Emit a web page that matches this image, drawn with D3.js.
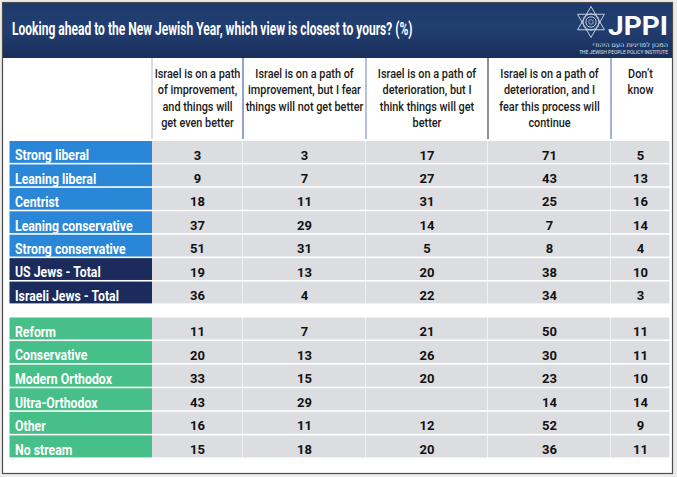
<!DOCTYPE html>
<html>
<head>
<meta charset="utf-8">
<script src="https://cdn.jsdelivr.net/npm/d3@7"></script>
<style>
  html, body { margin: 0; padding: 0; background: #ebebeb; }
  svg { display: block; }
</style>
</head>
<body>
<svg id="chart" width="677" height="477"></svg>
<script>
// ---------------- DATA ----------------
const titleText = "Looking ahead to the New Jewish Year, which view is closest to yours? (%)";

const columnKeys = ["improveBetter", "improveFear", "deteriorBetter", "deteriorContinue", "dontKnow"];
const columnHeaders = [
  ["Israel is on a path", "of improvement,", "and things will", "get even better"],
  ["Israel is on a path of", "improvement, but I fear", "things will not get better"],
  ["Israel is on a path of", "deterioration, but I", "think things will get", "better"],
  ["Israel is on a path of", "deterioration, and I", "fear this process will", "continue"],
  ["Don\u2019t", "know"]
];

const politicalRows = ["Strong liberal", "Leaning liberal", "Centrist", "Leaning conservative",
  "Strong conservative", "US Jews - Total", "Israeli Jews - Total"];
const politicalTypes = ["blue", "blue", "blue", "blue", "blue", "navy", "navy"];
const streamRows = ["Reform", "Conservative", "Modern Orthodox", "Ultra-Orthodox", "Other", "No stream"];
const streamTypes = ["green", "green", "green", "green", "green", "green"];

// values per column, political rows then stream rows
const improveBetter    = [3, 9, 18, 37, 51, 19, 36,   11, 20, 33, 43, 16, 15];
const improveFear      = [3, 7, 11, 29, 31, 13, 4,    7, 13, 15, 29, 11, 18];
const deteriorBetter   = [17, 27, 31, 14, 5, 20, 22,  21, 26, 20, null, 12, 20];
const deteriorContinue = [71, 43, 25, 7, 8, 38, 34,   50, 30, 23, 14, 52, 36];
const dontKnow         = [5, 13, 16, 14, 4, 10, 3,    11, 11, 10, 14, 9, 11];

// ---------------- STYLE / LAYOUT ----------------
const W = 677, H = 477;
const labelColor = { blue: "#2a87d8", navy: "#1b2b5c", green: "#47bf88" };
const cellColor = "#dcdde0";
const fontMain = "Roboto, 'Open Sans', 'Noto Sans', sans-serif";

const svg = d3.select("#chart");
const defs = svg.append("defs");
const grad = defs.append("linearGradient").attr("id", "hdr").attr("x1", 0).attr("y1", 0).attr("x2", 0).attr("y2", 1);
grad.append("stop").attr("offset", "0%").attr("stop-color", "#1e3a6c");
grad.append("stop").attr("offset", "45%").attr("stop-color", "#213f72");
grad.append("stop").attr("offset", "100%").attr("stop-color", "#1a2e5a");

// fit a text horizontally into a given width using a scale transform
function fittedText(x, y, width, anchor, attrs, str) {
  const g = svg.append("g");
  const t = g.append("text").attr("text-anchor", anchor);
  Object.entries(attrs).forEach(([k, v]) => t.attr(k, v));
  t.text(str);
  const natural = t.node().getComputedTextLength() || width;
  g.attr("transform", `translate(${x},${y}) scale(${width / natural},1)`);
  return g;
}

// background + frame
svg.append("rect").attr("width", W).attr("height", H).attr("fill", "#ebebeb");
svg.append("rect").attr("x", 2.5).attr("y", 2.5).attr("width", 670).attr("height", 471)
  .attr("fill", "#ffffff").attr("stroke", "#4d4d4d").attr("stroke-width", 1.2);
svg.append("rect").attr("x", 3).attr("y", 3).attr("width", 669).attr("height", 55).attr("fill", "url(#hdr)");

// title
fittedText(12, 34.5, 401, "start",
  { "font-family": fontMain, "font-weight": 700, "font-size": 18.5, fill: "#ffffff" }, titleText);

// logo
const logo = svg.append("g").attr("transform", "translate(591,22)");
const R = 15.5;
const tri = (rot) => d3.range(3).map(i => {
  const a = (rot + i * 120 - 90) * Math.PI / 180;
  return [R * Math.cos(a), R * Math.sin(a)];
});
[0, 60].forEach(rot => {
  logo.append("path").attr("d", d3.line()(tri(rot)) + "Z")
    .attr("fill", "none").attr("stroke", "#d9dfea").attr("stroke-width", 0.9);
});
[0, 30].forEach(rot => {
  const hex = d3.range(6).map(i => {
    const a = (rot + i * 60) * Math.PI / 180;
    return [8.8 * Math.cos(a), 8.8 * Math.sin(a)];
  });
  logo.append("path").attr("d", d3.line()(hex) + "Z")
    .attr("fill", "none").attr("stroke", "#c9d1e2").attr("stroke-width", 0.6);
});
logo.append("circle").attr("r", 5.2).attr("fill", "none").attr("stroke", "#e6eaf2").attr("stroke-width", 0.8);
logo.append("circle").attr("r", 2.3).attr("fill", "none").attr("stroke", "#e6eaf2").attr("stroke-width", 0.6);
fittedText(668, 35, 60, "end",
  { "font-family": fontMain, "font-weight": 700, "font-size": 25, fill: "#ffffff" }, "JPPI");
svg.append("text").attr("x", 668).attr("y", 47.3).attr("text-anchor", "start")
  .attr("direction", "rtl")
  .attr("font-family", "'DejaVu Sans', sans-serif").attr("font-size", 6.6)
  .attr("fill", "#dfe4ee")
  .text("המכון למדיניות העם היהודי");
fittedText(668, 54, 89, "end",
  { "font-family": fontMain, "font-size": 4.6, fill: "#dfe4ee" }, "THE JEWISH PEOPLE POLICY INSTITUTE");

// ---------------- SCALES ----------------
const labelX = 9.5, labelW = 142.5;
const colWidths = [91, 123, 122, 123, 59];
const colStarts = colWidths.reduce((acc, w, i) => { acc.push(i === 0 ? 152 : acc[i - 1] + colWidths[i - 1]); return acc; }, []);
const xStart = d3.scaleOrdinal().domain(columnKeys).range(colStarts);
const xWidth = d3.scaleOrdinal().domain(columnKeys).range(colWidths);
const xCenter = k => xStart(k) + xWidth(k) / 2;

const yPol = d3.scaleBand().domain(politicalRows).range([141, 305]);
const yStr = d3.scaleBand().domain(streamRows).range([317.5, 459]);

const series = { improveBetter, improveFear, deteriorBetter, deteriorContinue, dontKnow };

// ---------------- COLUMN HEADERS ----------------
const sepColors = ["#c9c9c9", "#5b70b2", "#8e9ecb", "#555555", "#7487c4"];
columnKeys.forEach((k, i) => {
  svg.append("line").attr("x1", xStart(k)).attr("x2", xStart(k)).attr("y1", 58).attr("y2", 139)
    .attr("stroke", sepColors[i]).attr("stroke-width", 1.3);
  const g = svg.append("g").attr("transform", `translate(${xCenter(k)},0) scale(0.8,1)`);
  columnHeaders[i].forEach((line, j) => {
    g.append("text").attr("x", 0).attr("y", 78 + j * 16.4).attr("text-anchor", "middle")
      .attr("font-family", fontMain).attr("font-weight", 500).attr("font-size", 13.6)
      .attr("fill", "#1a1a1a").text(line);
  });
});

// ---------------- ROWS ----------------
const rowData = [];
politicalRows.forEach((r, i) => rowData.push({ label: r, type: politicalTypes[i], idx: i, y: yPol(r), h: yPol.bandwidth() }));
streamRows.forEach((r, i) => rowData.push({ label: r, type: streamTypes[i], idx: politicalRows.length + i, y: yStr(r), h: yStr.bandwidth() }));

const rows = svg.selectAll("g.row").data(rowData).join("g").attr("class", "row");
rows.append("rect").attr("x", labelX).attr("y", d => d.y).attr("width", labelW).attr("height", d => d.h - 1.6)
  .attr("fill", d => labelColor[d.type]);
rows.append("g").attr("transform", d => `translate(15,${d.y + d.h / 2 + 7.6}) scale(0.82,1)`)
  .append("text").attr("font-family", fontMain).attr("font-weight", 700).attr("font-size", 15)
  .attr("fill", "#ffffff").text(d => d.label);

columnKeys.forEach(k => {
  rows.append("rect").attr("x", xStart(k)).attr("y", d => d.y)
    .attr("width", xWidth(k) - 0.6).attr("height", d => d.h - 1.6).attr("fill", cellColor);
  rows.append("text").attr("x", xCenter(k)).attr("y", d => d.y + d.h / 2 + 6.8)
    .attr("text-anchor", "middle").attr("font-family", fontMain).attr("font-weight", 700)
    .attr("font-size", 13).attr("fill", "#111111")
    .text(d => series[k][d.idx] == null ? "" : series[k][d.idx]);
});
</script>
</body>
</html>
